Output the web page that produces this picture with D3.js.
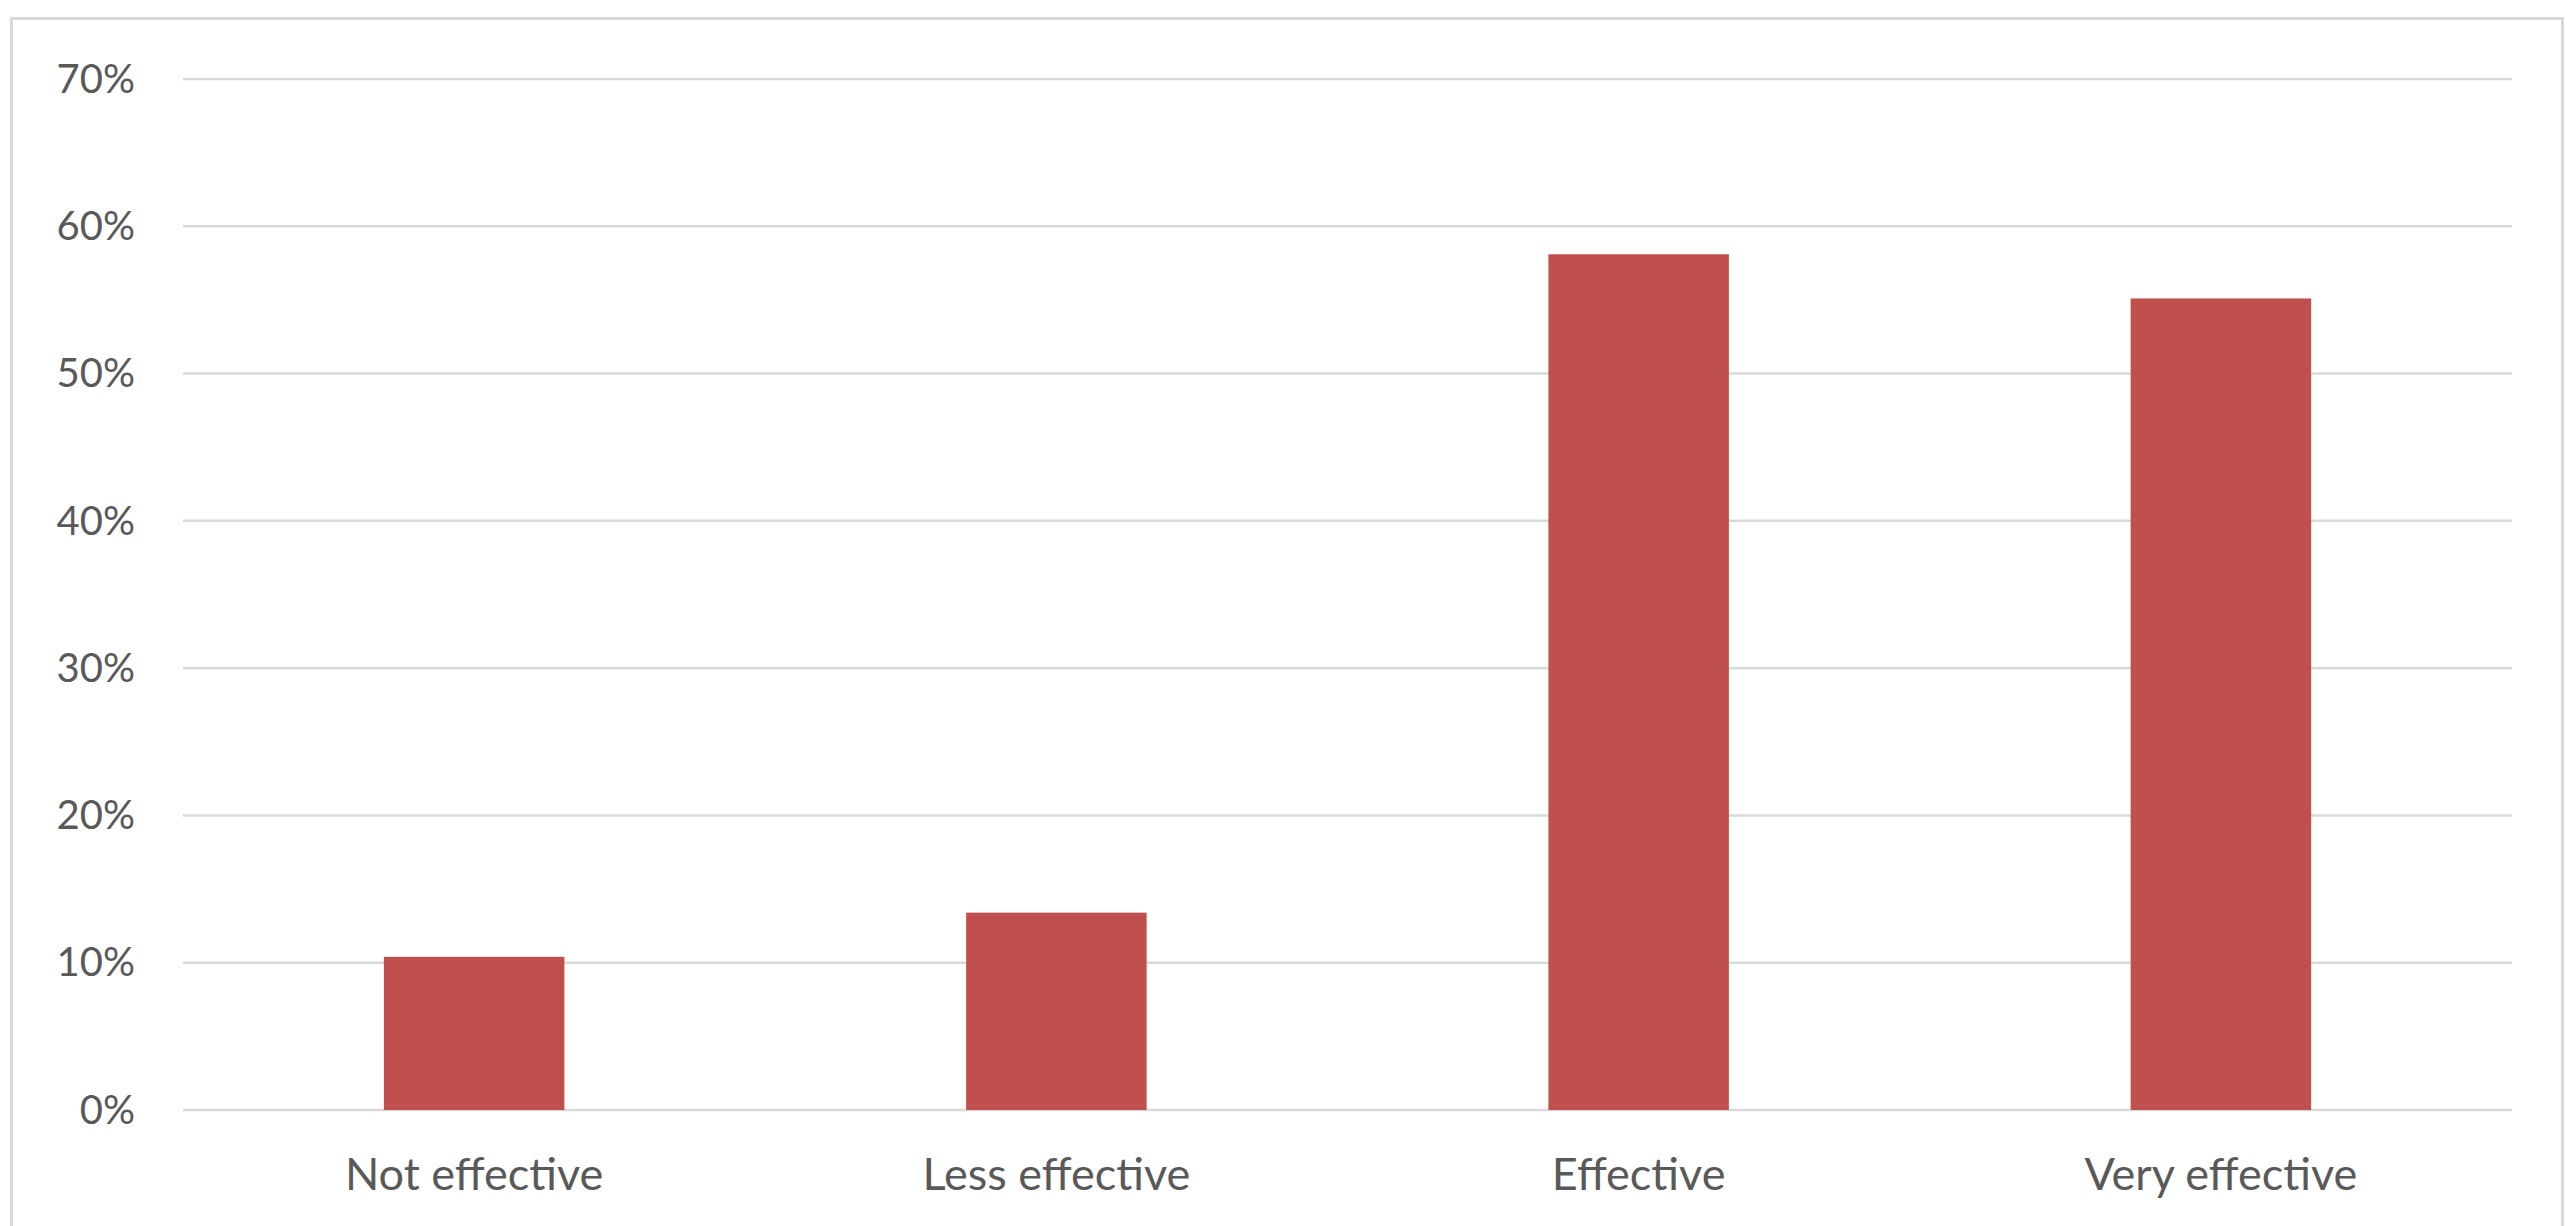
<!DOCTYPE html>
<html>
<head>
<meta charset="utf-8">
<script src="https://cdn.jsdelivr.net/npm/d3@7"></script>
<style>
  html, body { margin: 0; padding: 0; background: #ffffff; }
  svg { display: block; }
  .tick text { font-family: Lato, "Open Sans", sans-serif; }
</style>
</head>
<body>
<svg id="chart" width="2567" height="1226"></svg>
<script>
// Survey responses: share of respondents per effectiveness rating
const categories = ["Not effective", "Less effective", "Effective", "Very effective"];
const shares = [0.104, 0.134, 0.581, 0.551];
const yTicks = [0, 0.1, 0.2, 0.3, 0.4, 0.5, 0.6, 0.7];

const W = 2567, H = 1226;
const plot = { left: 183, right: 2512, top: 79, bottom: 1110 };

const svg = d3.select("#chart");

// Outer chart-area frame
svg.append("rect")
  .attr("x", 11.5).attr("y", 18.5)
  .attr("width", 2551).attr("height", 1240)
  .attr("fill", "#ffffff")
  .attr("stroke", "#d9d9d9")
  .attr("stroke-width", 3);

const x = d3.scaleBand()
  .domain(categories)
  .range([plot.left, plot.right])
  .paddingInner(0.69)
  .paddingOuter(0.345);

const y = d3.scaleLinear()
  .domain([0, 0.7])
  .range([plot.bottom, plot.top]);

// Horizontal gridlines
svg.append("g")
  .selectAll("line")
  .data(yTicks)
  .join("line")
  .attr("x1", plot.left).attr("x2", plot.right)
  .attr("y1", d => y(d)).attr("y2", d => y(d))
  .attr("stroke", "#d9d9d9")
  .attr("stroke-width", 2.5);

// Y axis labels
const yAxis = d3.axisLeft(y)
  .tickValues(yTicks)
  .tickFormat(d3.format(".0%"))
  .tickSize(0)
  .tickPadding(0);
const gy = svg.append("g")
  .attr("transform", `translate(135,0)`)
  .call(yAxis);
gy.select(".domain").remove();
gy.selectAll("text")
  .attr("fill", "#595959")
  .attr("font-size", 40)
  .attr("dy", "0.33em");

// Bars
svg.append("g")
  .selectAll("rect")
  .data(categories)
  .join("rect")
  .attr("x", (d) => x(d))
  .attr("width", x.bandwidth())
  .attr("y", (d, i) => y(shares[i]))
  .attr("height", (d, i) => y(0) - y(shares[i]))
  .attr("fill", "#c0504d");

// Category axis labels
const xAxis = d3.axisBottom(x).tickSize(0).tickPadding(0);
const gx = svg.append("g")
  .attr("transform", `translate(0,1190)`)
  .call(xAxis);
gx.select(".domain").remove();
gx.selectAll("text")
  .attr("fill", "#595959")
  .attr("font-size", 45)
  .attr("y", 0)
  .attr("dy", 0);
</script>
</body>
</html>
